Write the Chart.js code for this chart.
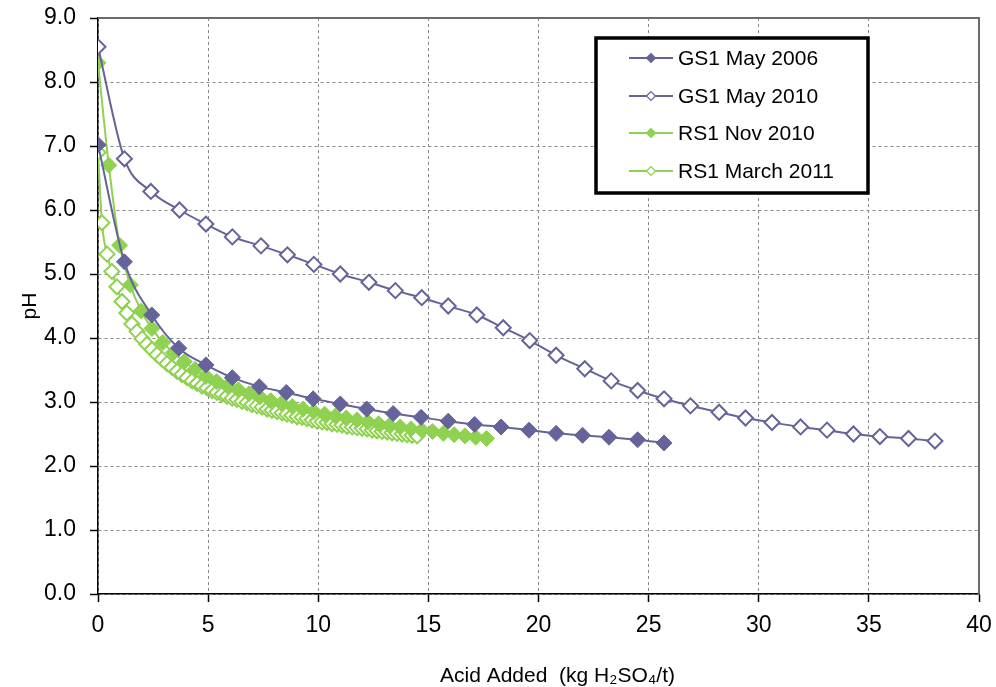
<!DOCTYPE html>
<html>
<head>
<meta charset="utf-8">
<script src="https://cdn.jsdelivr.net/npm/chart.js@4.4.1/dist/chart.umd.min.js"></script>
<style>
  html, body { margin: 0; padding: 0; background: #ffffff; }
  #wrap { width: 996px; height: 687px; }
</style>
</head>
<body>
<div id="wrap"><canvas id="c" width="996" height="687"></canvas></div>
<script>
// ---- data ----
const seriesNames = ['GS1 May 2006', 'GS1 May 2010', 'RS1 Nov 2010', 'RS1 March 2011'];

const gs2006X = [0, 1.2, 2.44, 3.67, 4.9, 6.1, 7.32, 8.55, 9.77, 11.0, 12.2, 13.4, 14.67, 15.9, 17.1, 18.3, 19.57, 20.8, 22.0, 23.2, 24.5, 25.7];
const gs2006Y = [7.02, 5.19, 4.36, 3.84, 3.58, 3.38, 3.24, 3.15, 3.05, 2.97, 2.89, 2.82, 2.76, 2.70, 2.65, 2.61, 2.56, 2.51, 2.48, 2.45, 2.41, 2.36];

const gs2010X = [0, 1.2, 2.4, 3.7, 4.9, 6.1, 7.4, 8.6, 9.8, 11.0, 12.3, 13.5, 14.7, 15.9, 17.2, 18.4, 19.6, 20.8, 22.1, 23.3, 24.5, 25.7, 26.9, 28.2, 29.4, 30.6, 31.9, 33.1, 34.3, 35.5, 36.8, 38.0];
const gs2010Y = [8.55, 6.80, 6.29, 6.00, 5.78, 5.58, 5.44, 5.30, 5.15, 5.00, 4.87, 4.74, 4.63, 4.50, 4.36, 4.16, 3.96, 3.73, 3.52, 3.33, 3.18, 3.05, 2.94, 2.84, 2.75, 2.68, 2.61, 2.56, 2.50, 2.46, 2.43, 2.39];

const rsNovX = [0, 0.49, 0.98, 1.47, 1.96, 2.45, 2.94, 3.43, 3.92, 4.41, 4.90, 5.39, 5.88, 6.37, 6.86, 7.35, 7.84, 8.33, 8.82, 9.31, 9.80, 10.29, 10.78, 11.27, 11.76, 12.25, 12.74, 13.23, 13.72, 14.21, 14.70, 15.19, 15.68, 16.17, 16.66, 17.15, 17.64];
const rsNovY = [8.30, 6.70, 5.45, 4.83, 4.42, 4.15, 3.93, 3.77, 3.63, 3.51, 3.40, 3.32, 3.25, 3.19, 3.13, 3.08, 3.02, 2.98, 2.93, 2.89, 2.85, 2.81, 2.78, 2.75, 2.72, 2.69, 2.66, 2.63, 2.61, 2.58, 2.56, 2.54, 2.51, 2.49, 2.47, 2.45, 2.43];

const rsMarX = [0, 0.18, 0.41, 0.63, 0.86, 1.09, 1.31, 1.54, 1.77, 2.00, 2.22, 2.45, 2.68, 2.91, 3.13, 3.36, 3.59, 3.81, 4.04, 4.27, 4.50, 4.72, 4.95, 5.18, 5.40, 5.63, 5.86, 6.09, 6.31, 6.54, 6.77, 6.99, 7.22, 7.45, 7.68, 7.90, 8.13, 8.36, 8.58, 8.81, 9.04, 9.27, 9.49, 9.72, 9.95, 10.17, 10.40, 10.63, 10.86, 11.08, 11.31, 11.54, 11.76, 11.99, 12.22, 12.45, 12.67, 12.90, 13.13, 13.35, 13.58, 13.81, 14.04, 14.26, 14.49];
const rsMarY = [6.90, 5.80, 5.31, 5.04, 4.80, 4.57, 4.39, 4.22, 4.10, 3.99, 3.90, 3.82, 3.74, 3.67, 3.60, 3.54, 3.48, 3.43, 3.38, 3.33, 3.29, 3.25, 3.22, 3.18, 3.15, 3.12, 3.09, 3.06, 3.04, 3.01, 2.99, 2.96, 2.94, 2.92, 2.89, 2.87, 2.85, 2.83, 2.81, 2.79, 2.77, 2.76, 2.74, 2.72, 2.70, 2.69, 2.68, 2.66, 2.65, 2.64, 2.62, 2.61, 2.60, 2.59, 2.58, 2.56, 2.55, 2.54, 2.53, 2.52, 2.51, 2.50, 2.49, 2.48, 2.47];

const xTickValues = [0, 5, 10, 15, 20, 25, 30, 35, 40];
const yTickValues = [0, 1, 2, 3, 4, 5, 6, 7, 8, 9];
const xTitle = 'Acid Added  (kg H\u2082SO\u2084/t)';
const yTitle = 'pH';

// ---- styles ----
const PURPLE = '#64649a';
const GREEN = '#8fd150';
const FONT = '"Liberation Sans", Arial, sans-serif';

function pts(xs, ys) { return xs.map((x, i) => ({ x: x, y: ys[i] })); }

const seriesStyles = [
  { color: PURPLE, filled: true },
  { color: PURPLE, filled: false },
  { color: GREEN, filled: true },
  { color: GREEN, filled: false }
];
const seriesData = [pts(gs2006X, gs2006Y), pts(gs2010X, gs2010Y), pts(rsNovX, rsNovY), pts(rsMarX, rsMarY)];

const datasets = seriesNames.map((name, i) => {
  const s = seriesStyles[i];
  return {
    label: name,
    data: seriesData[i],
    borderColor: s.color,
    backgroundColor: s.color,
    borderWidth: 2,
    pointStyle: 'rectRot',
    pointRadius: s.filled ? 8 : 7.5,
    pointHoverRadius: 8,
    pointBackgroundColor: s.filled ? s.color : '#ffffff',
    pointBorderColor: s.color,
    pointBorderWidth: s.filled ? 1 : 2,
    cubicInterpolationMode: 'monotone',
    fill: false
  };
});

function zeroPad(scale) {
  scale.paddingLeft = 0; scale.paddingRight = 0;
  scale.paddingTop = 0; scale.paddingBottom = 0;
}

// legend, frame and x title plugin
const frameLegend = {
  id: 'frameLegend',
  afterDatasetsDraw(chart) {
    const ctx = chart.ctx;
    const a = chart.chartArea;
    ctx.save();
    ctx.strokeStyle = '#6b6b6b';
    ctx.lineWidth = 2;
    ctx.setLineDash([]);
    ctx.beginPath();
    ctx.moveTo(a.left, a.top);
    ctx.lineTo(a.right, a.top);
    ctx.lineTo(a.right, a.bottom);
    ctx.stroke();

    const bx = 596, by = 38, bw = 272, bh = 155;
    ctx.fillStyle = '#ffffff';
    ctx.fillRect(bx, by, bw, bh);
    ctx.strokeStyle = '#000000';
    ctx.lineWidth = 3.5;
    ctx.strokeRect(bx, by, bw, bh);

    const rowsY = [58, 96, 133, 171];
    ctx.font = '21px ' + FONT;
    ctx.textBaseline = 'middle';
    ctx.textAlign = 'left';
    seriesNames.forEach((name, i) => {
      const s = seriesStyles[i];
      const y = rowsY[i];
      ctx.strokeStyle = s.color;
      ctx.lineWidth = 2;
      ctx.beginPath();
      ctx.moveTo(629, y);
      ctx.lineTo(673, y);
      ctx.stroke();
      const r = 4.5, cx = 651;
      ctx.beginPath();
      ctx.moveTo(cx - r, y);
      ctx.lineTo(cx, y - r);
      ctx.lineTo(cx + r, y);
      ctx.lineTo(cx, y + r);
      ctx.closePath();
      ctx.fillStyle = s.filled ? s.color : '#ffffff';
      ctx.fill();
      ctx.lineWidth = 1.2;
      ctx.strokeStyle = s.color;
      ctx.stroke();
      ctx.fillStyle = '#000000';
      ctx.fillText(name, 678, y + 1);
    });

    ctx.font = '21px ' + FONT;
    ctx.fillStyle = '#000000';
    ctx.textAlign = 'left';
    ctx.textBaseline = 'middle';
    ctx.fillText(xTitle, 440, 676);
    ctx.restore();
  }
};

new Chart(document.getElementById('c'), {
  type: 'line',
  data: { datasets: datasets },
  plugins: [frameLegend],
  options: {
    responsive: false,
    animation: false,
    events: [],
    layout: { padding: { top: 18, right: 17, left: 0, bottom: 0 } },
    plugins: {
      legend: { display: false },
      tooltip: { enabled: false }
    },
    scales: {
      x: {
        type: 'linear',
        min: 0, max: 40,
        afterBuildTicks(scale) { scale.ticks = xTickValues.map(v => ({ value: v })); },
        afterFit(scale) { scale.height = 93; zeroPad(scale); },
        ticks: {
          color: '#000000',
          font: { family: FONT, size: 23 },
          padding: 10,
          maxRotation: 0,
          callback: v => String(v)
        },
        grid: {
          color: '#8a8a8a',
          lineWidth: 1,
          drawTicks: true,
          tickLength: 8,
          tickColor: '#000000',
          tickWidth: 1.5,
          tickBorderDash: []
        },
        border: { display: true, color: '#000000', width: 1.5, dash: [3, 3] },
        title: { display: false }
      },
      y: {
        type: 'linear',
        min: 0, max: 9,
        afterBuildTicks(scale) { scale.ticks = yTickValues.map(v => ({ value: v })); },
        afterFit(scale) { scale.width = 98; zeroPad(scale); },
        ticks: {
          color: '#000000',
          font: { family: FONT, size: 23 },
          padding: 14,
          callback: v => Number(v).toFixed(1)
        },
        grid: {
          color: '#8a8a8a',
          lineWidth: 1,
          drawTicks: true,
          tickLength: 8,
          tickColor: '#000000',
          tickWidth: 1.5,
          tickBorderDash: []
        },
        border: { display: true, color: '#000000', width: 1.5, dash: [3, 3] },
        title: {
          display: true,
          text: yTitle,
          color: '#000000',
          font: { family: FONT, size: 21, lineHeight: 1.0 },
          padding: { top: 20, bottom: 20 }
        }
      }
    }
  }
});
</script>
</body>
</html>
